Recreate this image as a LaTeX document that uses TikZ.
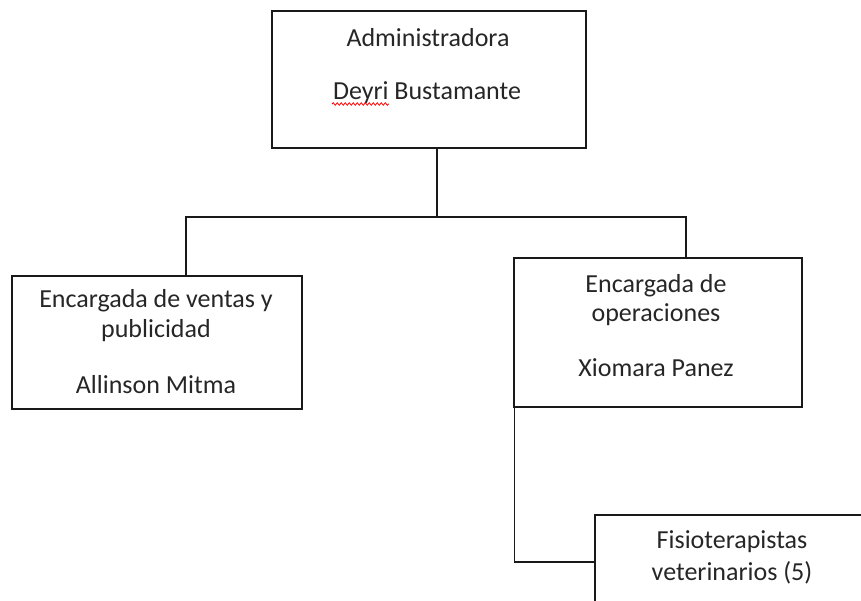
\documentclass[tikz,border=0pt]{standalone}
\usepackage{fontspec}
\setmainfont{Carlito}
\usetikzlibrary{decorations.pathmorphing}
\begin{document}
\begin{tikzpicture}[x=1pt,y=-1pt,
  box/.style={draw=black!90,line width=1.4pt},
  link/.style={draw=black!90,line width=1.4pt},
  txt/.style={anchor=base,inner sep=0pt,text=black!85,font=\fontsize{26}{30}\selectfont}]
\useasboundingbox (0,0) rectangle (861,601);
\clip (0,0) rectangle (861,601);
% boxes
\node[box,minimum width=314pt,minimum height=137pt,inner sep=0pt] (admin) at (429,79.5) {};
\node[box,minimum width=290pt,minimum height=133pt,inner sep=0pt] (ventas) at (157,342.5) {};
\node[box,minimum width=288pt,minimum height=149pt,inner sep=0pt] (oper) at (658,332.5) {};
\node[box,minimum width=280pt,minimum height=110pt,inner sep=0pt] (fisio) at (735,570) {};
% texts
\node[txt] (t1) at (428,47) {Administradora};
\node[txt] (t2) at (427,100) {Deyri Bustamante};
\draw[red,line width=0.8pt,decorate,decoration={snake,amplitude=1.2pt,segment length=4pt}] (332,104) -- (389,104);
\node[txt] (t3) at (156,308) {Encargada de ventas y};
\node[txt] (t4) at (156,337) {publicidad};
\node[txt] (t5) at (156,393) {Allinson Mitma};
\node[txt] (t6) at (656,292) {Encargada de};
\node[txt] (t7) at (656,321) {operaciones};
\node[txt] (t8) at (656,376) {Xiomara Panez};
\node[txt] (t9) at (732,548) {Fisioterapistas};
\node[txt] (t10) at (732,580) {veterinarios (5)};
% connectors
\coordinate (bus) at (437,217);
\draw[link] (admin.south -| bus) -- (bus);
\draw[link] (ventas.north -| 186,0) |- (bus) -| (oper.north -| 686,0);
\draw[link] (oper.south west) ++(1,0) coordinate (ob) -- (ob |- fisio.west |- 0,562) -- (fisio.west |- 0,562);
\end{tikzpicture}
\end{document}
